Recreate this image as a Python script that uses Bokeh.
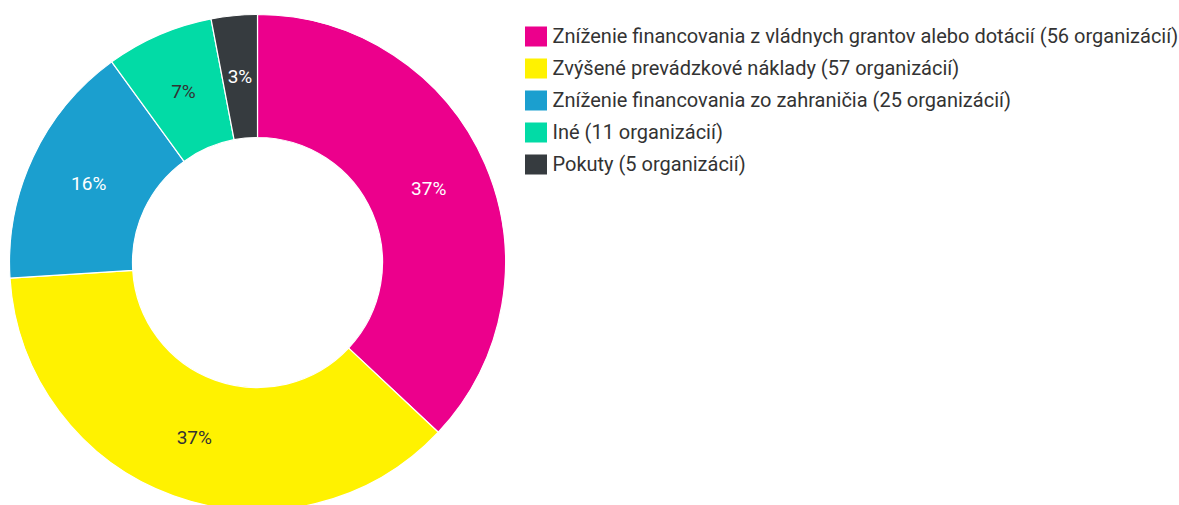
import numpy as np
from bokeh.plotting import figure
from bokeh.models import Range1d, ColumnDataSource
from bokeh.core.properties import value
from bokeh.embed import file_html
from bokeh.resources import INLINE

categories = [
    "Zníženie financovania z vládnych grantov alebo dotácií",
    "Zvýšené prevádzkové náklady",
    "Zníženie financovania zo zahraničia",
    "Iné",
    "Pokuty",
]
counts = [56, 57, 25, 11, 5]
percents = [37, 37, 16, 7, 3]
colors = ["#EC008C", "#FFF200", "#1B9FCF", "#02DBA6", "#363B3F"]
label_colors = ["#FFFFFF", "#333333", "#FFFFFF", "#333333", "#FFFFFF"]

W, H = 1179, 505
FONT = "Roboto"

p = figure(width=W, height=H, output_backend="svg", toolbar_location=None,
           x_range=Range1d(0, W), y_range=Range1d(505 - H, 505),
           min_border=0, outline_line_color=None)
p.axis.visible = False
p.grid.visible = False
p.background_fill_color = "white"
p.border_fill_color = "white"

cx, cy = 257, 505 - 262
r_out, r_in = 248, 125

pct = np.array(percents, dtype=float)
cum = np.concatenate([[0], np.cumsum(pct)])
frac = cum / cum[-1]
start = np.pi / 2 - frac[:-1] * 2 * np.pi
end = np.pi / 2 - frac[1:] * 2 * np.pi
mid = (start + end) / 2
r_mid = (r_in + r_out) / 2

src = ColumnDataSource(dict(
    x=[cx] * len(pct), y=[cy] * len(pct), start=start, end=end, color=colors,
    lx=cx + r_mid * np.cos(mid), ly=cy + r_mid * np.sin(mid),
    lab=[f"{v}%" for v in percents], lc=label_colors,
))
p.annular_wedge(x="x", y="y", inner_radius=r_in, outer_radius=r_out,
                start_angle="start", end_angle="end", direction="clock",
                fill_color="color", line_color="white", line_width=1.2, source=src)
p.text(x="lx", y="ly", text="lab", text_color="lc", text_font=value(FONT),
       text_font_size="19px", text_align="center", text_baseline="middle", source=src)

# legend
n = len(categories)
ly0 = 505 - 36
step = 32
leg = ColumnDataSource(dict(
    x=[535.5] * n, y=[ly0 - i * step for i in range(n)], color=colors,
    tx=[552] * n, ty=[ly0 - i * step + 1 for i in range(n)],
    t=[f"{c} ({k} organizácií)" for c, k in zip(categories, counts)],
))
p.rect(x="x", y="y", width=22, height=20, fill_color="color", line_color=None, source=leg)
p.text(x="tx", y="ty", text="t", text_color="#333333", text_font=value(FONT),
       text_font_size="20px", text_align="left", text_baseline="middle", source=leg)

open("out.html", "w").write(file_html(p, INLINE))
